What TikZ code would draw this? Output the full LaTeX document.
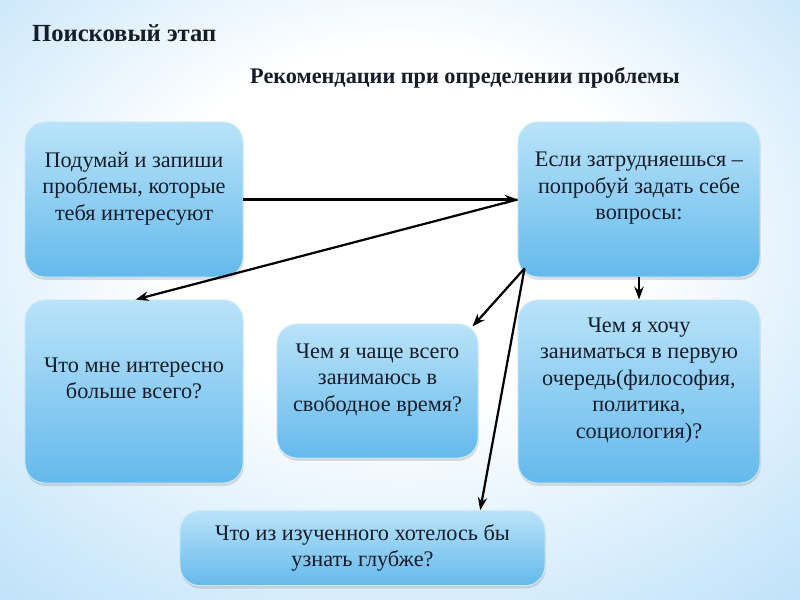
\documentclass[tikz,border=0pt]{standalone}
\usepackage{graphicx}
\usepackage{fontspec}
\setmainfont{Liberation Serif}
\usetikzlibrary{positioning,arrows.meta,shadows}
\definecolor{bgblue}{RGB}{128,194,242}
\definecolor{bgmid}{RGB}{196,228,250}
\definecolor{boxtop}{RGB}{186,227,249}
\definecolor{boxbot}{RGB}{100,185,236}
\definecolor{boxedge}{RGB}{205,234,251}
\definecolor{ink}{RGB}{22,28,40}
\pgfdeclareradialshading{slide}{\pgfpoint{0bp}{8bp}}{color(0bp)=(white); color(15bp)=(white); color(36bp)=(bgmid); color(62bp)=(bgblue)}
\tikzstyle{qbox} = [draw=boxedge, line width=0.8pt, rounded corners=0.6cm, top color=boxtop, bottom color=boxbot, align=center, text=ink, inner sep=2pt, font=\fontsize{19}{22.6}\selectfont, drop shadow={opacity=0.25, shadow xshift=0.6pt, shadow yshift=-2.5pt}]
\tikzstyle{up} = [text depth=0.8cm]
\tikzstyle{arr} = [-{Stealth[length=11pt,width=8pt]}, line width=1.9pt, black]

\begin{document}
\begin{tikzpicture}[x=0.03cm, y=-0.03cm]
\useasboundingbox (0,0) rectangle (800,600);
\shade[shading=slide] (0,0) rectangle (800,600);

\node[anchor=west, text=ink, font=\fontsize{21}{25}\bfseries] (title) at (28,33) {Поисковый этап};
\node[text=ink, font=\fontsize{19}{23}\bfseries] (subtitle) at (465,78) {Рекомендации при определении проблемы};

% boxes
\node[qbox, up, minimum width=6.54cm, minimum height=4.65cm] (box_1) at (134,199.5) {Подумай и запиши\\ проблемы, которые\\ тебя интересуют};
\node[qbox, up, minimum width=7.26cm, minimum height=4.65cm] (box_2) at (639,199.5) {Если затрудняешься --\\ попробуй задать себе\\ вопросы:};
\node[qbox, up, minimum width=6.54cm, minimum height=5.49cm] (box_3) at (134,391.5) {Что мне интересно\\ больше всего?};
\node[qbox, up, minimum width=6.03cm, minimum height=4.02cm] (box_4) at (377.5,391) {Чем я чаще всего\\ занимаюсь в\\ свободное время?};
\node[qbox, up, minimum width=7.26cm, minimum height=5.49cm] (box_5) at (639,391.5) {Чем я хочу\\ заниматься в первую\\ очередь(философия,\\ политика,\\ социология)?};
\node[qbox, minimum width=10.95cm, minimum height=2.25cm, yshift=-0.08cm] (box_6) at (362.5,545.5) {Что из изученного хотелось бы\\ узнать глубже?};

\coordinate (c_1) at ([xshift=0.21cm,yshift=0.27cm]box_2.south west);

% arrows
\draw[arr] (box_1.east) -- (box_2.west);
\draw[arr] (box_2.west) -- ([xshift=0.05cm]box_3.north);
\draw[arr] (c_1) -- ([xshift=-0.18cm,yshift=-0.09cm]box_4.north east);
\draw[arr] (c_1) -- ([xshift=3.53cm]box_6.north);
\draw[arr] (box_2.south) -- (box_5.north);

\end{tikzpicture}
\end{document}
